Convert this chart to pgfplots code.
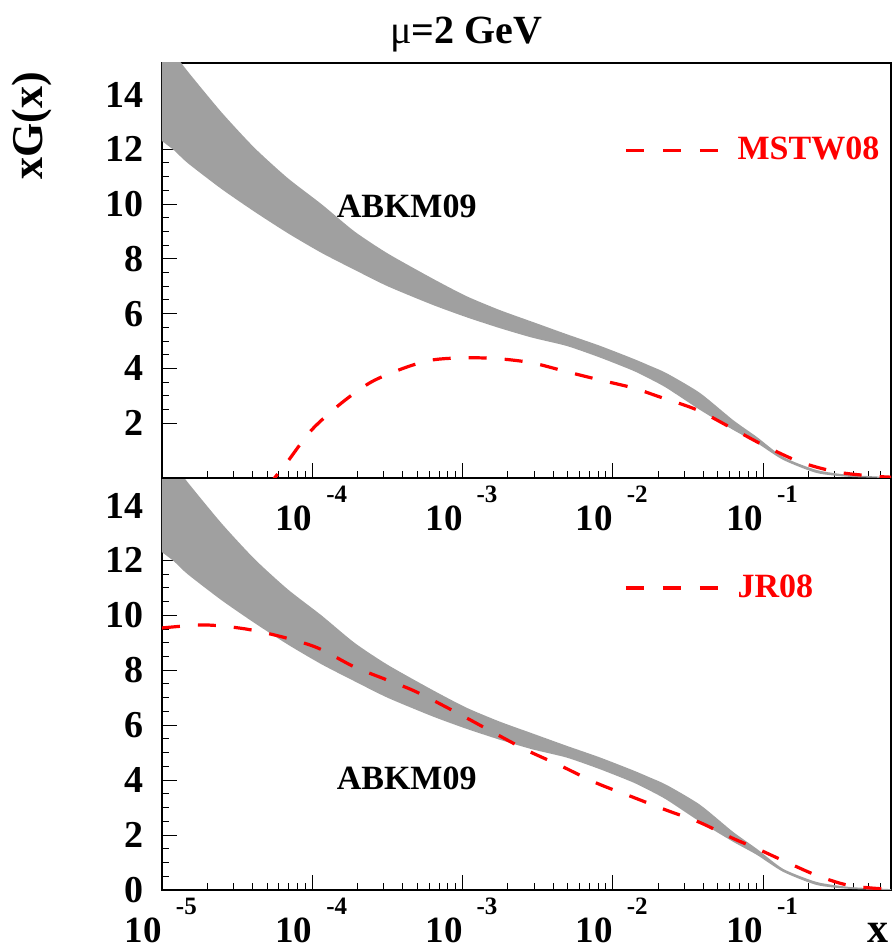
\documentclass[border=0pt]{standalone}
\usepackage{pgfplots}
\pgfplotsset{compat=1.18}
\usepackage{fontspec}
\setmainfont{Liberation Serif}
\definecolor{bandgrey}{RGB}{160,160,160}

\pgfplotstableread{
x y
1.0e-5 16.2
1.21e-5 15.5
1.48e-5 14.85
2.49e-5 13.35
4.13e-5 12.05
6.86e-5 10.95
1.15e-4 10.0
1.91e-4 9.0
3.17e-4 8.2
6.32e-4 7.28
1.06e-3 6.64
1.77e-3 6.13
2.92e-3 5.7
4.93e-3 5.25
8.18e-3 4.83
1.36e-2 4.36
1.76e-2 4.1
2.29e-2 3.82
3.79e-2 3.11
6.30e-2 2.12
9.08e-2 1.5
0.136 0.77
0.228 0.29
0.378 0.11
0.71 0.03
0.71 0.0
0.378 0.04
0.228 0.18
0.136 0.66
9.08e-2 1.28
6.30e-2 1.76
3.79e-2 2.49
2.29e-2 3.28
1.76e-2 3.62
1.36e-2 3.92
8.18e-3 4.4
4.93e-3 4.82
2.92e-3 5.12
1.77e-3 5.47
1.06e-3 5.87
6.32e-4 6.32
3.17e-4 7.0
1.91e-4 7.6
1.15e-4 8.22
6.86e-5 8.94
4.13e-5 9.72
2.49e-5 10.55
1.48e-5 11.5
1.21e-5 11.95
1.0e-5 12.3
}\abkm

\pgfplotstableread{
x y
5.04e-5 -0.4
5.61e-5 0
6.75e-5 0.55
9.89e-5 1.75
1.567e-4 2.74
2.48e-4 3.51
4.11e-4 4.02
6.32e-4 4.31
1.06e-3 4.39
1.77e-3 4.35
2.92e-3 4.20
4.93e-3 3.88
8.18e-3 3.58
1.36e-2 3.29
2.05e-2 2.96
3.62e-2 2.49
6.0e-2 1.86
9.95e-2 1.21
0.175 0.59
0.309 0.22
0.537 0.07
0.71 0.03
}\mstw

\pgfplotstableread{
x y
1.0e-5 9.54
1.92e-5 9.65
3.54e-5 9.51
6.25e-5 9.22
1.08e-4 8.82
1.91e-4 8.12
3.17e-4 7.64
4.94e-4 7.21
9.27e-4 6.44
1.585e-3 5.75
2.67e-3 5.09
4.43e-3 4.54
7.82e-3 3.89
1.36e-2 3.38
2.29e-2 2.90
3.79e-2 2.46
6.30e-2 1.88
9.08e-2 1.51
0.136 1.07
0.228 0.53
0.378 0.16
0.71 0.02
}\jr

\newcommand\tfont{\fontsize{19}{19}\selectfont\bfseries}
\newcommand\xl[1]{\makebox[0pt][r]{\fontsize{18.5}{18.5}\selectfont 10}\rlap{\hspace{7pt}\raisebox{14pt}{\fontsize{12.5}{12.5}\selectfont -#1}}}

\pgfplotsset{
  panel/.style={
    width=364.5pt, scale only axis,
    axis line style={line width=1pt},
    tick align=inside, xtick pos=left, ytick pos=left,
    major tick length=7.5pt, minor tick length=3.5pt,
    every tick/.style={black, line width=0.5pt},
    xtick={1e-5,1e-4,1e-3,1e-2,1e-1},
    minor xtick={2e-5,3e-5,4e-5,5e-5,6e-5,7e-5,8e-5,9e-5,
                 2e-4,3e-4,4e-4,5e-4,6e-4,7e-4,8e-4,9e-4,
                 2e-3,3e-3,4e-3,5e-3,6e-3,7e-3,8e-3,9e-3,
                 2e-2,3e-2,4e-2,5e-2,6e-2,7e-2,8e-2,9e-2,
                 0.2,0.3,0.4,0.5,0.6,0.7},
    minor y tick num=3,
    yticklabel style={font=\tfont, inner sep=0pt, xshift=-9pt},
    xticklabel style={font=\bfseries, anchor=north, inner sep=0pt, yshift=-4pt},
    legend style={draw=none, fill=none, font=\fontsize{17}{17}\selectfont\bfseries,
      text=red, anchor=west, column sep=0pt, nodes={inner sep=0pt}},
    legend image code/.code={\draw[red, line width=1.6pt, dash pattern=on 9pt off 9.5pt] (0pt,0pt) -- (46pt,0pt);},
  }
}

\begin{document}
\begin{tikzpicture}
% bottom panel
\begin{axis}[xmode=log, xmin=1e-5, xmax=0.71, panel,
  at={(81pt,30.5pt)}, anchor=south west, height=206pt,
  ymin=0, ymax=15, ytick={0,2,4,6,8,10,12,14},
  yticklabels={0,2,4,6,8,10,12,14},
  xticklabels={\xl{5},\xl{4},\xl{3},\xl{2},\xl{1}},
  legend style={at={(rel axis cs:0.6255,0.733)}}]
\addplot[fill=bandgrey, draw=none, smooth, tension=0.4, forget plot] table {\abkm} -- cycle;
\addplot[red, line width=1.6pt, dash pattern=on 9pt off 9pt, smooth] table {\jr};
\addlegendentry{\hspace*{9pt}JR08}
\node[font=\fontsize{17}{17}\selectfont\bfseries] at (axis cs:4.25e-4,4.07) {ABKM09};
\end{axis}
% top panel
\begin{axis}[xmode=log, xmin=1e-5, xmax=0.71, panel,
  at={(81pt,236.5pt)}, anchor=south west, height=207.5pt,
  ymin=0, ymax=15.15, ytick={2,4,6,8,10,12,14},
  yticklabels={2,4,6,8,10,12,14},
  xticklabels={{},\xl{4},\xl{3},\xl{2},\xl{1}},
  legend style={at={(rel axis cs:0.6255,0.790)}}]
\addplot[fill=bandgrey, draw=none, smooth, tension=0.4, forget plot] table {\abkm} -- cycle;
\addplot[red, line width=1.6pt, dash pattern=on 9pt off 9pt, smooth] table {\mstw};
\addlegendentry{\hspace*{9pt}MSTW08}
\node[font=\fontsize{17}{17}\selectfont\bfseries] at (axis cs:4.25e-4,9.9) {ABKM09};
\end{axis}
\node[font=\fontsize{20}{20}\selectfont\bfseries] at (233pt,458pt) {{\mdseries μ}=2 GeV};
\node[font=\fontsize{22}{22}\selectfont\bfseries, rotate=90] at (16pt,412.5pt) {xG(x)};
\node[font=\fontsize{21}{21}\selectfont\bfseries, inner sep=0pt, anchor=base east] at (444.5pt,4.5pt) {x};
\pgfresetboundingbox
\useasboundingbox (0,0) rectangle (446.5pt,475.5pt);
\end{tikzpicture}
\end{document}
